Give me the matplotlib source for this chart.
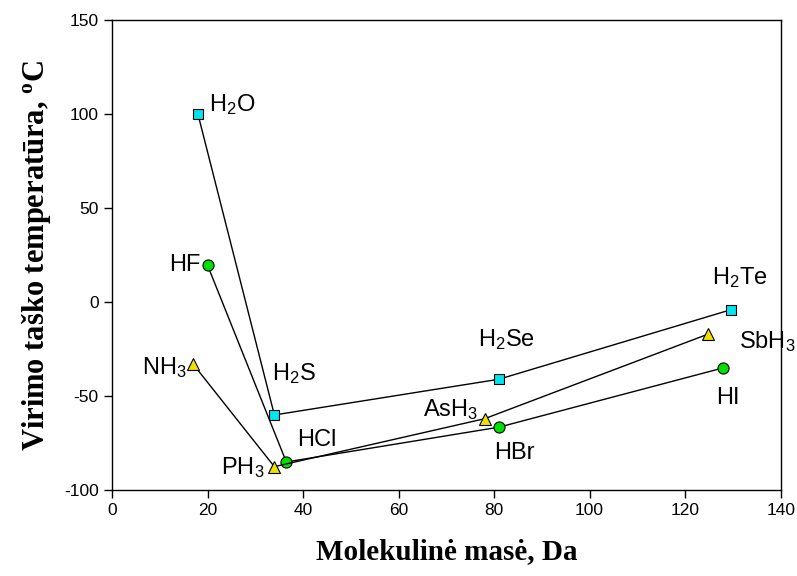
import matplotlib
matplotlib.use("Agg")
import matplotlib.pyplot as plt

plt.rcParams['font.family'] = ['Liberation Sans', 'DejaVu Sans']
plt.rcParams['mathtext.fontset'] = 'custom'
plt.rcParams['mathtext.rm'] = 'Liberation Sans'
plt.rcParams['mathtext.it'] = 'Liberation Sans:italic'
plt.rcParams['mathtext.bf'] = 'Liberation Serif:bold'
plt.rcParams['mathtext.default'] = 'regular'
plt.rcParams['axes.unicode_minus'] = False

# group VI hydrides (squares)
h6_mass = [18, 34, 81, 129.6]
h6_bp = [100, -60, -41, -4]
h6_names = ['H$_2$O', 'H$_2$S', 'H$_2$Se', 'H$_2$Te']
# group VII hydrides (circles)
h7_mass = [20, 36.5, 81, 127.9]
h7_bp = [19.7, -85, -66.5, -35]
h7_names = ['HF', 'HCl', 'HBr', 'HI']
# group V hydrides (triangles)
h5_mass = [17, 34, 78, 124.8]
h5_bp = [-33, -87.5, -62, -17]
h5_names = ['NH$_3$', 'PH$_3$', 'AsH$_3$', 'SbH$_3$']

fig = plt.figure(figsize=(7.97, 5.76), dpi=100)
ax = fig.add_axes([0.1405, 0.149, 0.839, 0.816])

ax.plot(h6_mass, h6_bp, color='black', lw=1, marker='s', ms=7,
        mfc='#00e5ee', mec='black', mew=0.8)
ax.plot(h7_mass, h7_bp, color='black', lw=1, marker='o', ms=8,
        mfc='#00e000', mec='black', mew=0.8)
ax.plot(h5_mass, h5_bp, color='black', lw=1, marker='^', ms=8,
        mfc='#f0e000', mec='black', mew=0.8)

fs = 17
# label placement (data coords)
ax.text(20.3, 105, h6_names[0], fontsize=fs, ha='left', va='center')
ax.text(38, -38, h6_names[1], fontsize=fs, ha='center', va='center')
ax.text(82.5, -20, h6_names[2], fontsize=fs, ha='center', va='center')
ax.text(131.5, 13, h6_names[3], fontsize=fs, ha='center', va='center')
ax.text(18.6, 20, h7_names[0], fontsize=fs, ha='right', va='center')
ax.text(42.8, -73.5, h7_names[1], fontsize=fs, ha='center', va='center')
ax.text(84.3, -80, h7_names[2], fontsize=fs, ha='center', va='center')
ax.text(129, -51, h7_names[3], fontsize=fs, ha='center', va='center')
ax.text(11, -35, h5_names[0], fontsize=fs, ha='center', va='center')
ax.text(27.3, -88, h5_names[1], fontsize=fs, ha='center', va='center')
ax.text(71, -57, h5_names[2], fontsize=fs, ha='center', va='center')
ax.text(143.2, -21, h5_names[3], fontsize=fs, ha='right', va='center')

ax.set_xlim(0, 140)
ax.set_ylim(-100, 150)
ax.set_xticks(range(0, 141, 20))
ax.set_yticks(range(-100, 151, 50))
ax.tick_params(direction='out', length=6, width=1, labelsize=12.5,
               top=False, right=False)
for s in ax.spines.values():
    s.set_linewidth(1)

ax.set_xlabel('Molekulinė masė, Da', family='Liberation Serif',
              fontweight='bold', fontsize=21, labelpad=14)
ax.set_ylabel('Virimo taško temperatūra, $\\mathbf{^o}$C', family='Liberation Serif',
              fontweight='bold', fontsize=22, labelpad=8)

fig.savefig('out.png', dpi=100)
